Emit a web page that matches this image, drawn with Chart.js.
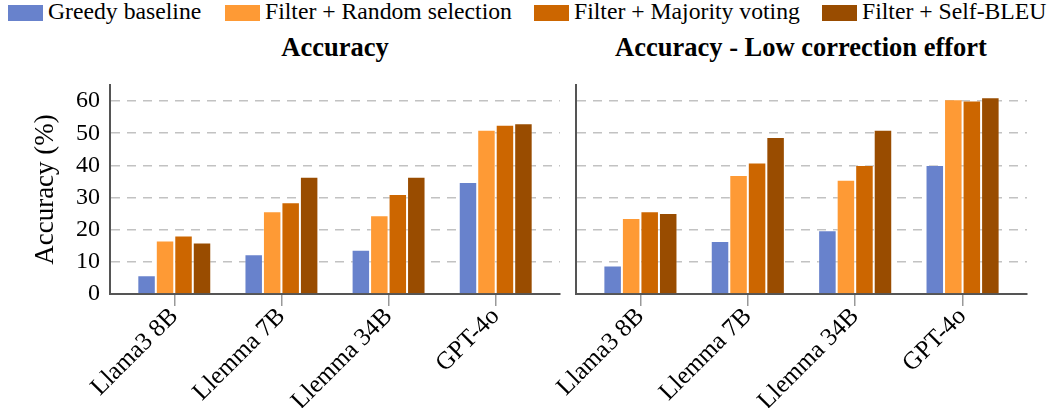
<!DOCTYPE html>
<html>
<head>
<meta charset="utf-8">
<script src="https://cdn.jsdelivr.net/npm/chart.js@4.4.0/dist/chart.umd.min.js"></script>
<style>
  html, body { margin: 0; padding: 0; background: #fff; }
  #wrap { position: relative; width: 1050px; height: 408px; overflow: hidden; font-family: "Liberation Serif", Tinos, "Times New Roman", "DejaVu Serif", serif; }
  #legend { position: absolute; left: 0; top: -2px; width: 1050px; height: 30px; }
  #legend .item { position: absolute; top: 0; display: flex; align-items: flex-start; }
  #legend .item:nth-child(1) { left: 8px; }
  #legend .item:nth-child(2) { left: 225px; }
  #legend .item:nth-child(3) { left: 534px; }
  #legend .item:nth-child(4) { left: 822px; }
  #legend .box { width: 35px; height: 16px; margin-top: 7px; margin-right: 5px; }
  #legend .txt { font-size: 23.7px; line-height: 26px; color: #000; white-space: nowrap; }
  .ptitle { position: absolute; width: 500px; text-align: center; font-weight: bold; font-size: 26.5px; line-height: 30px; top: 32px; white-space: nowrap; }
  canvas { position: absolute; top: 60px; }
  #c1 { left: 0; }
  #c2 { left: 530px; }
</style>
</head>
<body>
<div id="wrap">
  <div id="legend"></div>
  <div class="ptitle" style="left:85px">Accuracy</div>
  <div class="ptitle" style="left:551px">Accuracy - Low correction effort</div>
  <canvas id="c1" width="580" height="348"></canvas>
  <canvas id="c2" width="520" height="348"></canvas>
</div>
<script>
// models on the x axis, same for both panels
const models = ["Llama3 8B", "Llemma 7B", "Llemma 34B", "GPT-4o"];
const seriesNames = ["Greedy baseline", "Filter + Random selection", "Filter + Majority voting", "Filter + Self-BLEU"];
const seriesColors = ["#6882cc", "#fe9a35", "#cc6600", "#994c00"];

// panel 1: Accuracy (%)
const accGreedy   = [5.8, 12.4, 13.8, 34.8];
const accRandom   = [16.6, 25.7, 24.5, 51.1];
const accMajority = [18.2, 28.5, 31.1, 52.6];
const accSelfBleu = [16.0, 36.5, 36.5, 53.1];

// panel 2: Accuracy - low correction effort (%)
const lowGreedy   = [8.9, 16.5, 19.8, 40.1];
const lowRandom   = [23.6, 37.0, 35.5, 60.6];
const lowMajority = [25.7, 40.9, 40.1, 60.2];
const lowSelfBleu = [25.2, 48.8, 51.1, 61.2];

const yTicks = [0, 10, 20, 30, 40, 50, 60];
const yMax = 65;

const SERIF = '"Liberation Serif", Tinos, "Times New Roman", "DejaVu Serif", serif';
Chart.defaults.font.family = SERIF;
Chart.defaults.color = "#000";

// html legend
document.getElementById("legend").innerHTML = seriesNames.map((n, i) =>
  `<div class="item"><div class="box" style="background:${seriesColors[i]}"></div><div class="txt">${n}</div></div>`
).join("");

function toPoints(vals) { return vals.map((y, i) => ({ x: i, y })); }

function makePanel(id, series, yWidth, padRight, showYLabels) {
  const datasets = series.map((vals, i) => ({
    label: seriesNames[i],
    data: toPoints(vals),
    backgroundColor: seriesColors[i],
    borderColor: "rgba(255,255,255,0.35)",
    borderWidth: 1,
    categoryPercentage: 0.69,
    barPercentage: 1.0,
  }));
  return new Chart(document.getElementById(id), {
    type: "bar",
    data: { datasets },
    options: {
      responsive: false,
      animation: false,
      devicePixelRatio: 1,
      layout: { padding: { top: 25, right: padRight, left: 0, bottom: 0 } },
      plugins: { legend: { display: false }, tooltip: { enabled: false } },
      scales: {
        x: {
          type: "linear",
          min: -0.6, max: 3.6,
          offset: false,
          afterFit: s => { s.height = 114; },
          ticks: {
            stepSize: 1, includeBounds: false, autoSkip: false,
            minRotation: 45, maxRotation: 45, padding: -4,
            font: { size: 25, family: SERIF }, color: "#000",
            callback: v => models[v] ?? "",
          },
          grid: { offset: false, drawOnChartArea: false, drawTicks: true, tickLength: 12, color: "#999", lineWidth: 1.5 },
          border: { display: true, color: "#555", width: 2 },
        },
        y: {
          min: 0, max: yMax,
          afterFit: s => { s.width = yWidth; },
          afterBuildTicks: s => { s.ticks = yTicks.map(v => ({ value: v })); },
          ticks: { display: showYLabels, padding: 10, font: { size: 24, family: SERIF }, color: "#000" },
          grid: {
            drawTicks: false,
            color: c => (c.tick && c.tick.value === 0 ? "transparent" : "#c2c2c2"),
            lineWidth: 1.5,
          },
          border: { display: true, color: "#555", width: 2, dash: [9, 7] },
          title: {
            display: showYLabels, text: "Accuracy (%)",
            font: { size: 27, family: SERIF }, color: "#000",
            padding: { top: 30, bottom: 0 },
          },
        },
      },
    },
  });
}

makePanel("c1", [accGreedy, accRandom, accMajority, accSelfBleu], 110, 20, true);
makePanel("c2", [lowGreedy, lowRandom, lowMajority, lowSelfBleu], 46, 23, false);
</script>
</body>
</html>
